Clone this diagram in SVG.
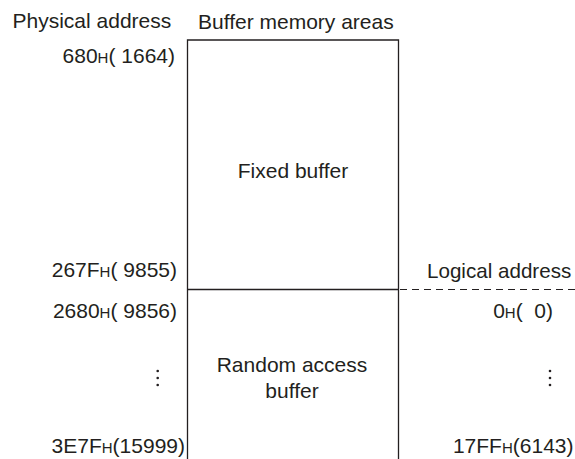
<svg xmlns="http://www.w3.org/2000/svg" width="575" height="459" viewBox="0 0 575 459">
<style>
text{font-family:"Liberation Sans",Arial,sans-serif;font-size:21px;fill:#231f20}
.s{font-size:15px}
.ln{stroke:#231f20;stroke-width:1.3;fill:none}
.dash{stroke:#231f20;stroke-width:1.2;stroke-dasharray:7 5;fill:none}
.dot{fill:#231f20}
</style>
<rect width="575" height="459" fill="#fff"/>
<g id="headers">
<text x="12.5" y="28">Physical address</text>
<text x="198" y="29">Buffer memory areas</text>
<text x="427" y="277.5" style="font-size:20.6px">Logical address</text>
</g>
<g id="buffer-box">
<path class="ln" d="M187.5 459V40H398.5V459"/>
</g>
<g id="fixed-buffer">
<text x="293" y="178" text-anchor="middle">Fixed buffer</text>
</g>
<g id="random-access-buffer">
<text x="292" y="372" text-anchor="middle">Random access</text>
<text x="292" y="398" text-anchor="middle">buffer</text>
</g>
<g id="connectors">
<path class="ln" d="M187.5 289.5H398.5"/>
<path class="dash" d="M400 289.5H575"/>
</g>
<g id="physical-addresses">
<text x="175" y="63" text-anchor="end" xml:space="preserve">680<tspan class="s">H</tspan>( 1664)</text>
<text x="177" y="277" text-anchor="end" xml:space="preserve">267F<tspan class="s">H</tspan>( 9855)</text>
<text x="177" y="318" text-anchor="end" xml:space="preserve">2680<tspan class="s">H</tspan>( 9856)</text>
<text x="185" y="453" text-anchor="end">3E7F<tspan class="s">H</tspan>(15999)</text>
<circle class="dot" cx="157.7" cy="371" r="1.3"/>
<circle class="dot" cx="157.7" cy="378" r="1.3"/>
<circle class="dot" cx="157.7" cy="385" r="1.3"/>
</g>
<g id="logical-addresses">
<text x="553" y="318" text-anchor="end" xml:space="preserve">0<tspan class="s">H</tspan>(  0)</text>
<text x="573.5" y="453" text-anchor="end">17FF<tspan class="s">H</tspan>(6143)</text>
<circle class="dot" cx="550" cy="371" r="1.3"/>
<circle class="dot" cx="550" cy="378" r="1.3"/>
<circle class="dot" cx="550" cy="385" r="1.3"/>
</g>
</svg>
